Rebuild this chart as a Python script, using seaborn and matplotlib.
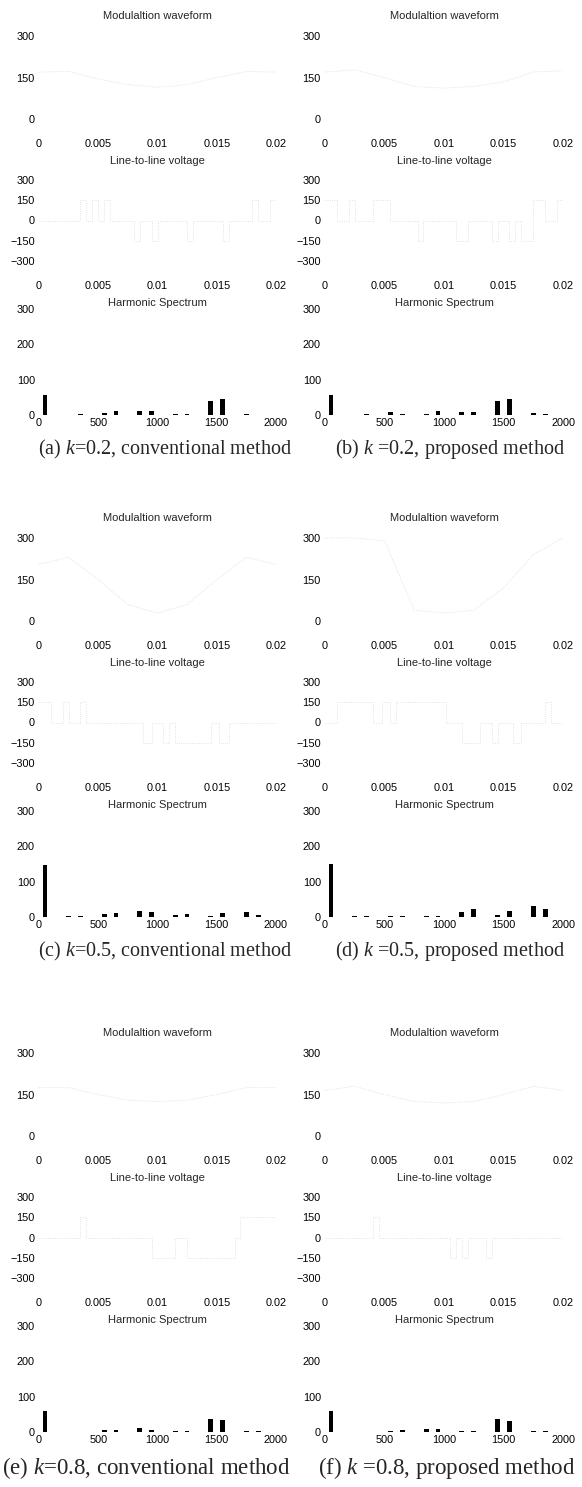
import numpy as np
import pandas as pd
import matplotlib
matplotlib.use("Agg")
import matplotlib.pyplot as plt
import seaborn as sns

sns.set_theme(style="white")
plt.rcParams["font.family"] = ["Liberation Sans", "DejaVu Sans"]
plt.rcParams["mathtext.fontset"] = "custom"
plt.rcParams["mathtext.rm"] = "Liberation Serif"
plt.rcParams["mathtext.it"] = "Liberation Serif:italic"

# ---------------------------------------------------------------- data
time_ticks = [0, 0.005, 0.01, 0.015, 0.02]
time_tick_labels = ["0", "0.005", "0.01", "0.015", "0.02"]
mod_ticks = [0, 150, 300]
ll_ticks = [-300, -150, 0, 150, 300]
hs_ticks = [0, 100, 200, 300]
freq_ticks = [0, 500, 1000, 1500, 2000]

panel_titles = ["Modulaltion waveform", "Line-to-line voltage", "Harmonic Spectrum"]

captions = [
    "(a) $k$=0.2, conventional method",
    "(b) $k$ =0.2, proposed method",
    "(c) $k$=0.5, conventional method",
    "(d) $k$ =0.5, proposed method",
    "(e) $k$=0.8, conventional method",
    "(f) $k$ =0.8, proposed method",
]

# modulation waveform samples (time in s, value in V)
mod_t = [0, 0.0025, 0.005, 0.0075, 0.01, 0.0125, 0.015, 0.0175, 0.02]
mod_a = [170, 172, 145, 125, 115, 125, 150, 172, 170]
mod_b = [170, 178, 150, 118, 112, 118, 135, 170, 175]
mod_c = [205, 230, 150, 60, 30, 60, 150, 230, 205]
mod_d = [300, 300, 290, 40, 30, 40, 120, 240, 300]
mod_e = [175, 175, 150, 130, 125, 130, 150, 175, 175]
mod_f = [165, 180, 150, 125, 120, 125, 150, 180, 165]

# line-to-line voltage switching instants (s) and levels (V)
ll_t_a = [0, 0.0035, 0.004, 0.0045, 0.005, 0.0055, 0.006, 0.0065, 0.008, 0.0085, 0.0095,
          0.01, 0.0125, 0.013, 0.0155, 0.016, 0.018, 0.0185, 0.0195, 0.02]
ll_v_a = [0, 150, 0, 150, 0, 150, 0, 0, -150, 0, -150,
          0, -150, 0, -150, 0, 150, 0, 150, 150]
ll_t_b = [0, 0.001, 0.002, 0.0025, 0.004, 0.0055, 0.006, 0.0078, 0.0082, 0.011, 0.012,
          0.014, 0.0145, 0.0155, 0.016, 0.0165, 0.0175, 0.0185, 0.0195, 0.02]
ll_v_b = [150, 0, 150, 0, 150, 0, 0, -150, 0, -150, 0,
          -150, 0, -150, 0, -150, 150, 0, 150, 150]
ll_t_c = [0, 0.001, 0.002, 0.0025, 0.0035, 0.004, 0.0088, 0.0095, 0.0105, 0.011, 0.0115,
          0.0145, 0.0152, 0.016, 0.02]
ll_v_c = [150, 0, 150, 0, 150, 0, -150, 0, -150, 0, -150,
          0, -150, 0, 0]
ll_t_d = [0, 0.001, 0.0035, 0.004, 0.0048, 0.0055, 0.006, 0.0102, 0.0115, 0.013, 0.014,
          0.0145, 0.0158, 0.0165, 0.0185, 0.019, 0.02]
ll_v_d = [0, 150, 150, 0, 150, 0, 150, 0, -150, 0, -150,
          0, -150, 0, 150, 0, 0]
ll_t_e = [0, 0.0035, 0.004, 0.0085, 0.0095, 0.0115, 0.0125, 0.0165, 0.017, 0.02]
ll_v_e = [0, 150, 0, 0, -150, 0, -150, 0, 150, 150]
ll_t_f = [0, 0.004, 0.0045, 0.0105, 0.011, 0.0115, 0.012, 0.0135, 0.014, 0.02]
ll_v_f = [0, 150, 0, -150, 0, -150, 0, -150, 0, 0]

# harmonic spectrum: frequency (Hz) and amplitude (V)
harmonic_freqs = [50, 250, 350, 550, 650, 850, 950, 1150, 1250, 1450, 1550, 1650, 1750, 1850]
spec_a = [57, 0, 2, 6, 10, 12, 10, 2, 2, 40, 46, 1, 2, 1]
spec_b = [57, 0, 3, 8, 3, 3, 12, 8, 8, 39, 44, 1, 5, 3]
spec_c = [148, 2, 2, 8, 12, 16, 13, 6, 9, 4, 12, 1, 13, 5]
spec_d = [150, 2, 2, 2, 2, 3, 4, 14, 24, 5, 17, 1, 31, 24]
spec_e = [60, 0, 0, 5, 7, 10, 7, 2, 2, 36, 34, 0, 2, 2]
spec_f = [60, 0, 0, 4, 5, 8, 8, 2, 2, 36, 32, 0, 3, 2]

panels = [
    (mod_a, ll_t_a, ll_v_a, spec_a),
    (mod_b, ll_t_b, ll_v_b, spec_b),
    (mod_c, ll_t_c, ll_v_c, spec_c),
    (mod_d, ll_t_d, ll_v_d, spec_d),
    (mod_e, ll_t_e, ll_v_e, spec_e),
    (mod_f, ll_t_f, ll_v_f, spec_f),
]

# ---------------------------------------------------------------- layout
W, H = 582, 1487
fig = plt.figure(figsize=(W / 100, H / 100), dpi=100)

group_top = [0, 502, 1017]
col_x = [(39, 276), (325, 563)]
rows = [(22, 136), (167, 274), (309, 415)]   # pixel spans inside one group
caption_y = 449
caption_size = [14.5, 14.5, 16.5]

faint = "#dadada"
tick_col = "#c0c0c0"
label_size = 7.8
title_size = 8


def add_px_axes(x0, x1, y0, y1):
    return fig.add_axes([x0 / W, 1 - y1 / H, (x1 - x0) / W, (y1 - y0) / H])


def style(ax, xticks, xlabels, yticks, xpad):
    for s in ax.spines.values():
        s.set_visible(False)
    ax.set_xticks(xticks)
    ax.set_xticklabels(xlabels)
    ax.set_yticks(yticks)
    ax.tick_params(axis="both", length=2, width=0.5, color=tick_col,
                   labelsize=label_size, labelcolor="black", direction="in")
    ax.tick_params(axis="x", pad=xpad, length=0)
    ax.tick_params(axis="y", pad=3)
    ax.set_xlabel("")
    ax.set_ylabel("")
    ax.grid(False)


for i, (mod, llt, llv, spec) in enumerate(panels):
    g, c = divmod(i, 2)
    x0, x1 = col_x[c]
    top = group_top[g]

    # modulation waveform
    ax = add_px_axes(x0, x1, top + rows[0][0], top + rows[0][1])
    sns.lineplot(x=mod_t, y=mod, ax=ax, color=faint, lw=0.6, ls=":", estimator=None)
    ax.set_xlim(0, 0.02)
    ax.set_ylim(-60, 350)
    style(ax, time_ticks, time_tick_labels, mod_ticks, 2)
    ax.set_title(panel_titles[0], fontsize=title_size, pad=2.5)

    # line-to-line voltage
    ax = add_px_axes(x0, x1, top + rows[1][0], top + rows[1][1])
    sns.lineplot(x=llt, y=llv, ax=ax, color=faint, lw=0.6, ls=":",
                 estimator=None, drawstyle="steps-post")
    ax.set_xlim(0, 0.02)
    ax.set_ylim(-400, 400)
    style(ax, time_ticks, time_tick_labels, ll_ticks, 5)
    ax.set_title(panel_titles[1], fontsize=title_size, pad=2.5)

    # harmonic spectrum
    ax = add_px_axes(x0, x1, top + rows[2][0], top + rows[2][1])
    sns.barplot(x=harmonic_freqs, y=spec, ax=ax, native_scale=True, width=0.4,
                color="black", linewidth=0, errorbar=None, saturation=1)
    ax.set_xlim(0, 2000)
    ax.set_ylim(0, 300)
    style(ax, freq_ticks, [str(v) for v in freq_ticks], hs_ticks, 2)
    ax.set_title(panel_titles[2], fontsize=title_size, pad=2.5)

    # sub-figure caption
    if g < 2:
        cx = 165 if c == 0 else 450
        fig.text(cx / W, 1 - (top + caption_y) / H, captions[i], ha="center", va="center",
                 fontsize=caption_size[g], family="Liberation Serif")
    else:
        lx = 2 if c == 0 else 318
        fig.text(lx / W, 1 - (top + caption_y + 2) / H, captions[i], ha="left", va="center",
                 fontsize=caption_size[g], family="Liberation Serif")

fig.savefig("out.png", dpi=100)
